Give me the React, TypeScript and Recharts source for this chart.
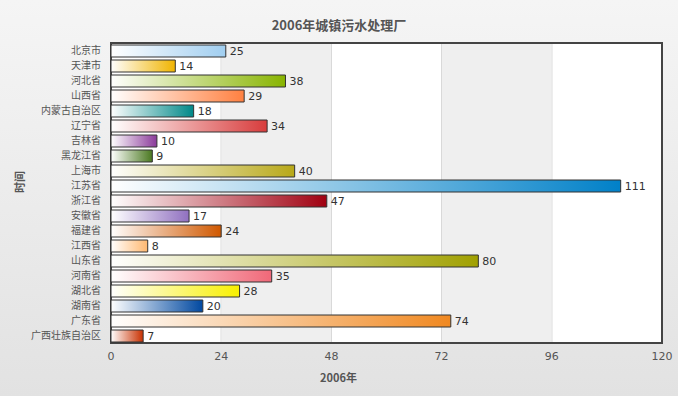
import React from 'react';
import { BarChart, Bar, XAxis, YAxis, CartesianGrid, Cell, LabelList, ReferenceArea } from 'recharts';

const categories = ['北京市','天津市','河北省','山西省','内蒙古自治区','辽宁省','吉林省','黑龙江省','上海市','江苏省','浙江省','安徽省','福建省','江西省','山东省','河南省','湖北省','湖南省','广东省','广西壮族自治区'];
const values = [25,14,38,29,18,34,10,9,40,111,47,17,24,8,80,35,28,20,74,7];
const colors = ['#a0cef0','#f0b400','#88b400','#ff8040','#008888','#d83c3c','#8a3a9a','#4a7820','#b8a818','#0080c8','#a00010','#9070c0','#d05800','#ffb870','#a0a000','#f06878','#f8f000','#0048a0','#f08820','#c83000'];
const xTicks = [0,24,48,72,96,120];

const data = categories.map((c, i) => ({ name: c, value: values[i] }));

export default function App() {
  return (
    <div style={{ position: 'absolute', left: 0, top: 0, width: 678, height: 396, background: 'linear-gradient(#f5f5f5, #e2e2e2)' }}>
      <div style={{ position: 'absolute', top: 15, width: 678, textAlign: 'center', fontFamily: '"Noto Sans CJK SC", sans-serif', fontWeight: 'bold', fontSize: 13, color: '#555' }}>2006年城镇污水处理厂</div>
      <BarChart width={678} height={396} data={data} layout="vertical" margin={{ top: 43, right: 16, bottom: 12, left: 11 }} barCategoryGap={1.5}>
        <defs>
          {colors.map((c, i) => (
            <linearGradient key={i} id={`g${i}`} x1="0" y1="0" x2="1" y2="0">
              <stop offset="0%" stopColor="#ffffff" />
              <stop offset="100%" stopColor={c} />
            </linearGradient>
          ))}
        </defs>
        <CartesianGrid horizontal={false} vertical={true} stroke="#c4c4c4" fill="#ffffff" />
        <ReferenceArea x1={24} x2={48} fill="#efefef" fillOpacity={1} stroke="none" />
        <ReferenceArea x1={72} x2={96} fill="#efefef" fillOpacity={1} stroke="none" />
        <XAxis type="number" domain={[0, 120]} ticks={xTicks} axisLine={false} tickLine={false} height={41}
          tick={{ fill: '#555', fontSize: 11, fontFamily: '"DejaVu Sans", sans-serif' }} tickMargin={3}
          label={{ value: '2006年', position: 'insideBottom', dx: -48, offset: 2, fill: '#555', fontSize: 11, fontWeight: 'bold', fontFamily: '"Noto Sans CJK SC", sans-serif' }} />
        <YAxis type="category" dataKey="name" width={100} axisLine={false} tickLine={false} interval={0}
          tick={{ fill: '#555', fontSize: 10, fontFamily: '"Noto Sans CJK SC", sans-serif' }} tickMargin={4}
          label={{ value: '时间', angle: -90, position: 'insideLeft', dx: 4, fill: '#555', fontSize: 11, fontWeight: 'bold', fontFamily: '"Noto Sans CJK SC", sans-serif' }} />
        <Bar dataKey="value" barSize={12} stroke="#333" strokeWidth={1} isAnimationActive={false}>
          {data.map((d, i) => <Cell key={i} fill={`url(#g${i})`} />)}
          <LabelList dataKey="value" position="right" offset={4} fill="#333" fontSize={11} fontFamily='"DejaVu Sans", sans-serif' />
        </Bar>
        <ReferenceArea x1={0} x2={120} fill="none" stroke="#444" strokeWidth={2} ifOverflow="visible" />
      </BarChart>
    </div>
  );
}
